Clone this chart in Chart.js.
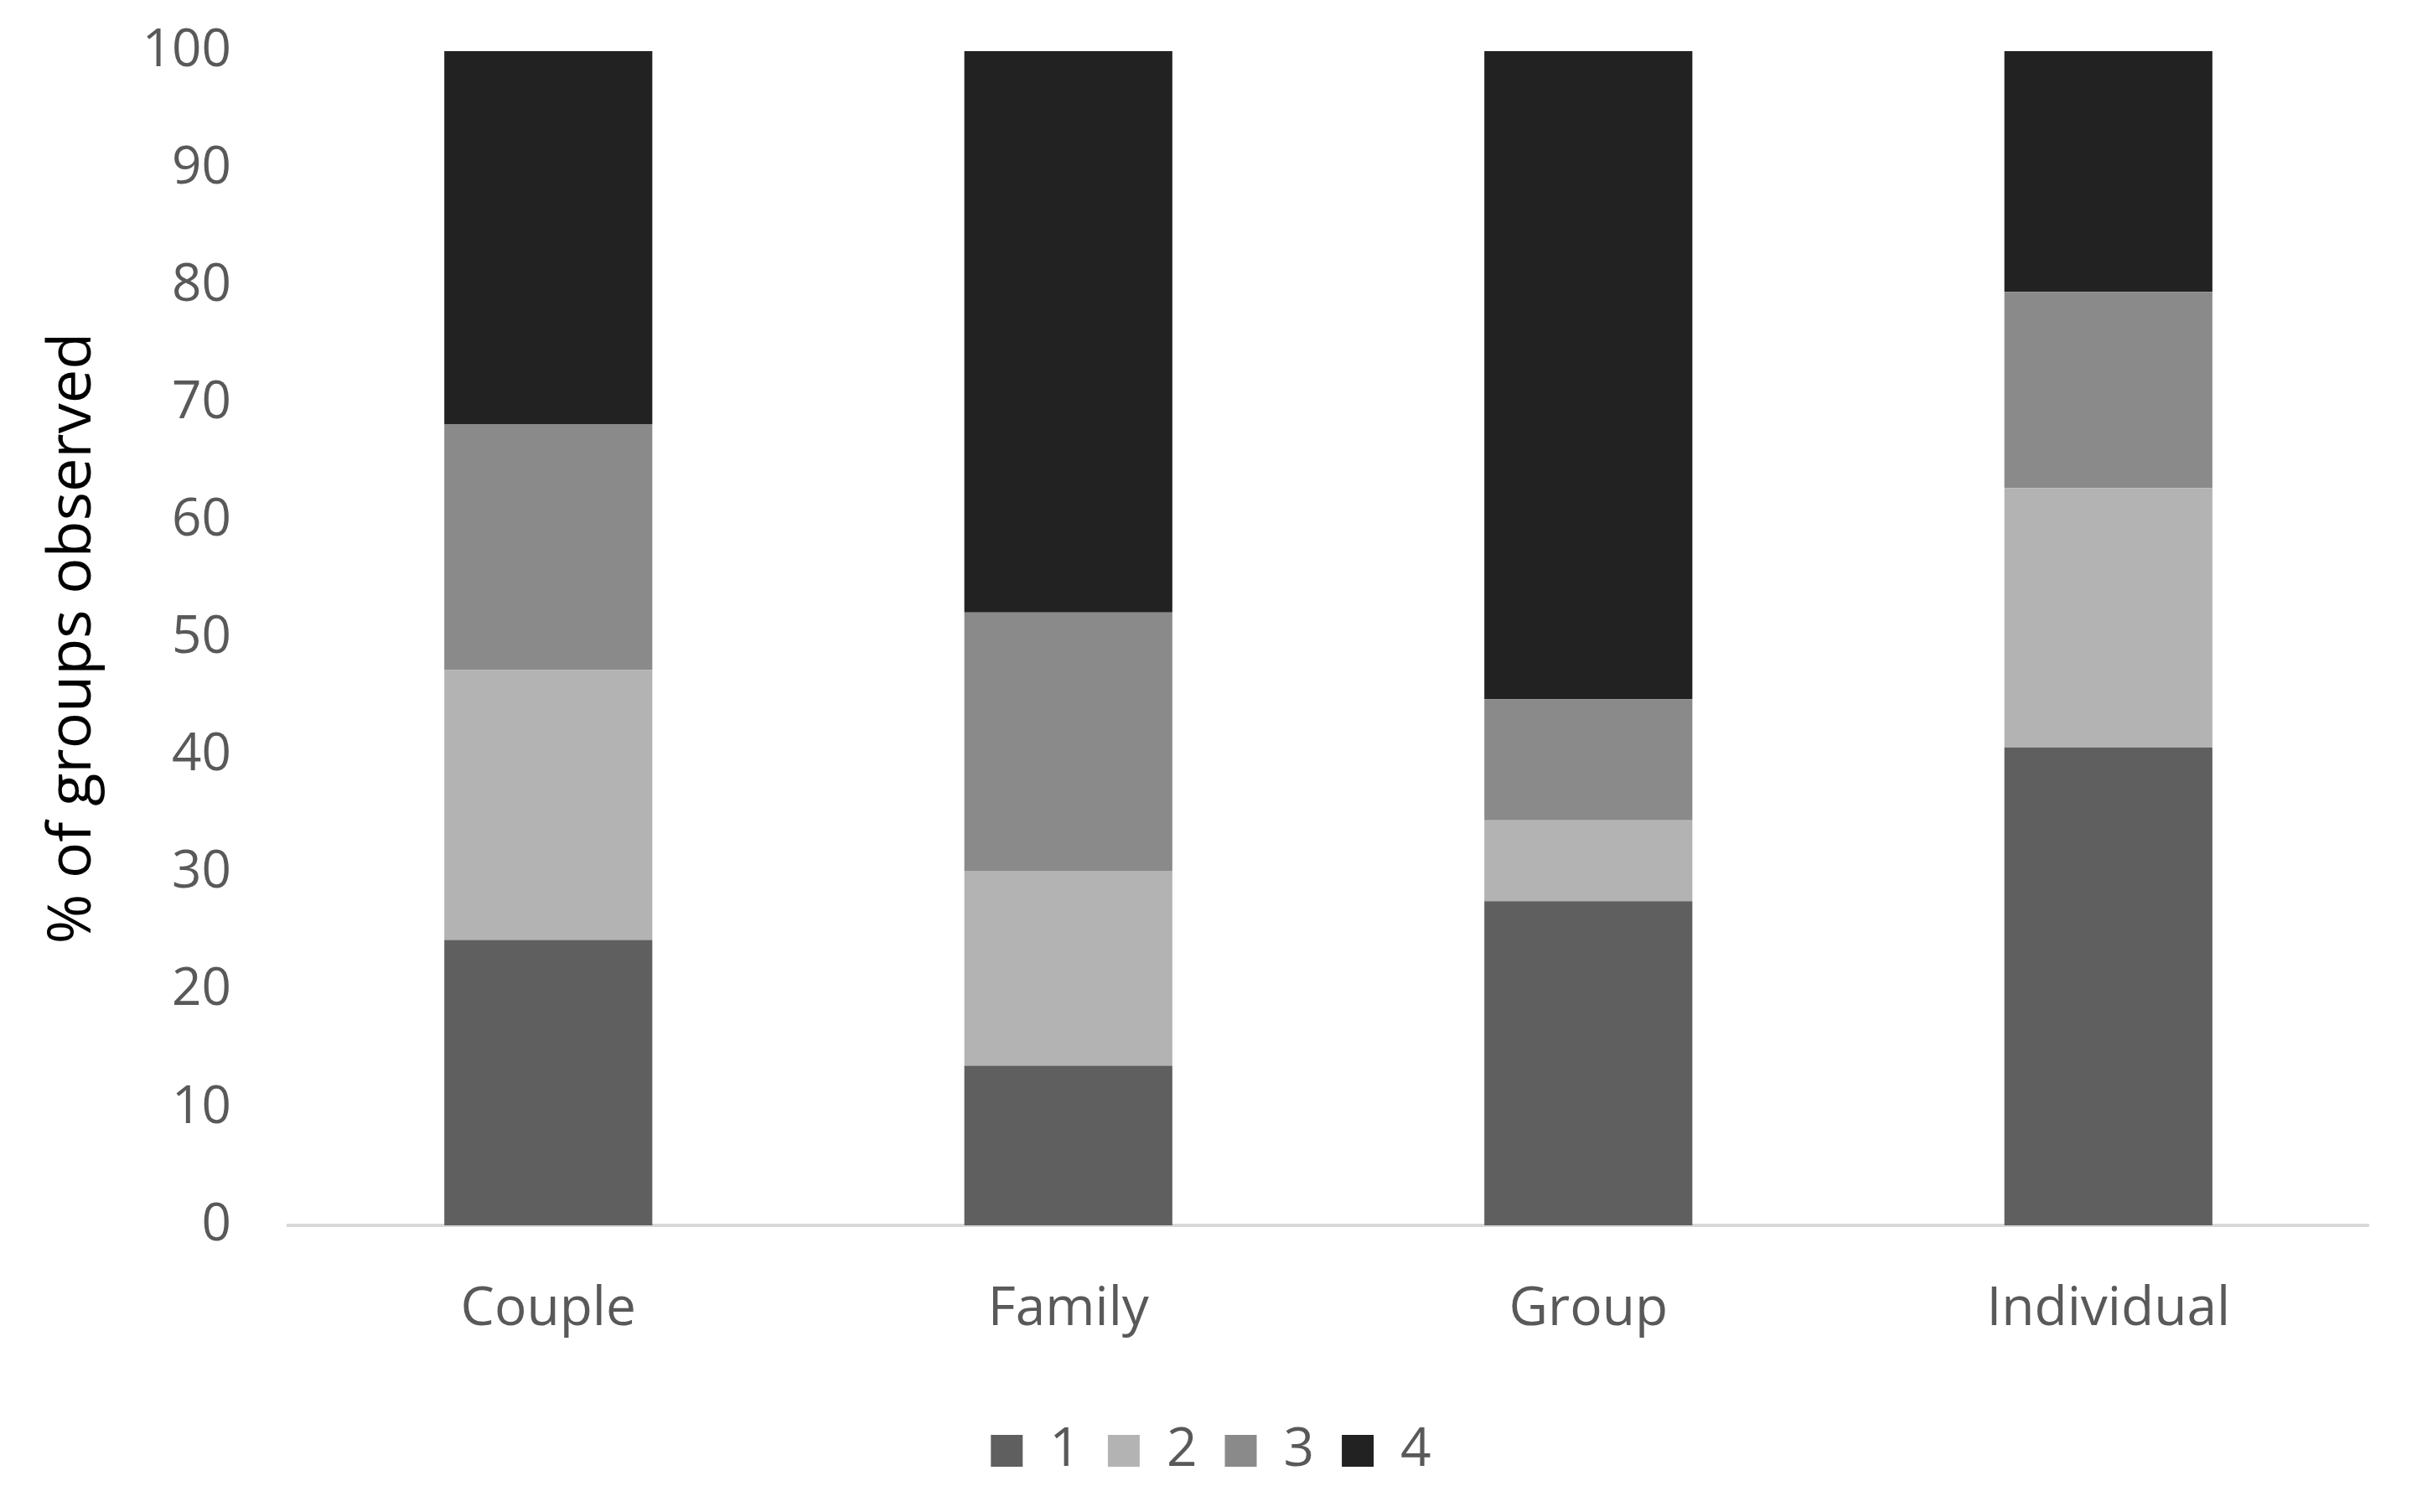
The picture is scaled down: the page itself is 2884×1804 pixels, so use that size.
<!DOCTYPE html>
<html>
<head>
<meta charset="utf-8">
<script src="https://cdn.jsdelivr.net/npm/chart.js@4"></script>
<style>
  html, body { margin: 0; padding: 0; background: #fff; }
  #wrap { width: 2884px; height: 1804px; }
</style>
</head>
<body>
<div id="wrap"><canvas id="chart" width="2884" height="1804"></canvas></div>
<script>
const categories = ["Couple", "Family", "Group", "Individual"];
const seriesNames = ["1", "2", "3", "4"];
const series1 = [24.3, 13.6, 27.6, 40.7];
const series2 = [23.0, 16.6, 6.9, 22.1];
const series3 = [20.9, 22.0, 10.3, 16.7];
const series4 = [31.8, 47.8, 55.2, 20.5];
const yTicks = [0, 10, 20, 30, 40, 50, 60, 70, 80, 90, 100];

const colors = ["#5f5f5f", "#b3b3b3", "#8a8a8a", "#222222"];
const FONT = "'Open Sans', 'Liberation Sans', sans-serif";

const datasets = [series1, series2, series3, series4].map((vals, i) => ({
    label: seriesNames[i],
    data: vals,
    backgroundColor: colors[i],
    borderWidth: 0,
    categoryPercentage: 1.0,
    barPercentage: 0.4
}));

const ctx = document.getElementById('chart').getContext('2d');
new Chart(ctx, {
    type: 'bar',
    data: { labels: categories, datasets: datasets },
    options: {
        responsive: false,
        animation: false,
        layout: { padding: { left: 64, right: 58, top: 61, bottom: 31 } },
        plugins: {
            tooltip: { enabled: false },
            legend: {
                position: 'bottom',
                labels: {
                    boxWidth: 38,
                    boxHeight: 38,
                    padding: 33,
                    color: '#595959',
                    font: { family: FONT, size: 64 }
                }
            }
        },
        scales: {
            x: {
                stacked: true,
                grid: { display: false, drawTicks: false },
                border: { display: true, color: '#d9d9d9', width: 4 },
                ticks: {
                    color: '#595959',
                    padding: 62,
                    font: { family: FONT, size: 64 }
                },
                afterFit: (axis) => { axis.height = 204; }
            },
            y: {
                stacked: true,
                min: 0,
                max: 100,
                afterBuildTicks: (axis) => { axis.ticks = yTicks.map(v => ({ value: v })); },
                grid: { display: false, drawTicks: false },
                border: { display: false },
                ticks: {
                    color: '#595959',
                    padding: 68,
                    font: { family: FONT, size: 62 }
                },
                title: {
                    display: true,
                    text: '% of groups observed',
                    color: '#000000',
                    padding: { top: -20, bottom: 0 },
                    font: { family: FONT, size: 72 }
                },
                afterFit: (axis) => {
                    axis.width = 280;
                    // keep the tick padding from pushing the plot area down
                    axis.paddingTop = 0;
                    axis.paddingBottom = 0;
                }
            }
        }
    }
});
</script>
</body>
</html>
